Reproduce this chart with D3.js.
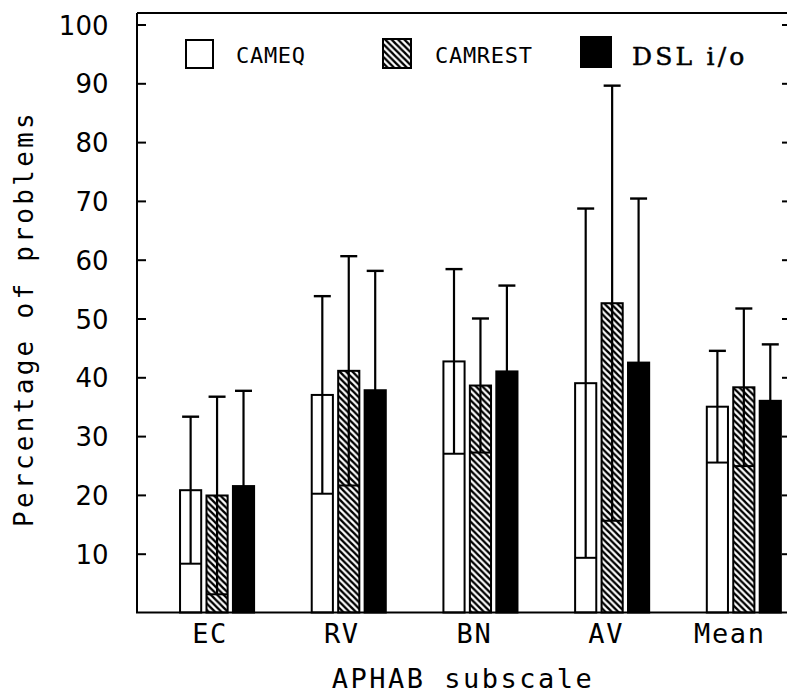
<!DOCTYPE html>
<html>
<head>
<meta charset="utf-8">
<script src="https://cdn.jsdelivr.net/npm/d3@7"></script>
<style>
  html, body { margin: 0; padding: 0; background: #ffffff; }
  svg { display: block; }
</style>
</head>
<body>
<svg id="chart" width="787" height="694"></svg>
<script>
// ---------- data ----------
const categories = ["EC", "RV", "BN", "AV", "Mean"];
const seriesNames = ["CAMEQ", "CAMREST", "DSL i/o"];
const cameqMean   = [20.8, 37.0, 42.7, 39.0, 35.0];
const cameqSD     = [12.5, 16.8, 15.7, 29.7, 9.5];
const camrestMean = [19.9, 41.1, 38.6, 52.6, 38.3];
const camrestSD   = [16.8, 19.5, 11.4, 37.0, 13.4];
const dslMean     = [21.5, 37.8, 41.0, 42.5, 36.0];
const dslSD       = [16.2, 20.3, 14.6, 27.9, 9.6];
const yTicks = [10, 20, 30, 40, 50, 60, 70, 80, 90, 100];
const xTitle = "APHAB subscale";
const yTitle = "Percentage of problems";

// ---------- layout ----------
const svg = d3.select("#chart");
const frameL = 137, frameR = 789, frameB = 612.5, frameT = 13;
const labelShift = [-7, -7, -6, -6, -14];

const y = d3.scaleLinear().domain([0, 100]).range([612.5, 24.5]);
const x0 = d3.scaleBand().domain(categories).range([151.2, 809.7])
  .paddingInner(0.4377).paddingOuter(0.219);
const x1 = d3.scaleBand().domain(seriesNames).range([0, x0.bandwidth()]).paddingInner(0.2);

// hatch pattern
const defs = svg.append("defs");
const p = 6.4;
const pat = defs.append("pattern").attr("id", "hatch")
  .attr("patternUnits", "userSpaceOnUse").attr("width", p).attr("height", p);
pat.append("rect").attr("width", p).attr("height", p).attr("fill", "#fff");
pat.append("path")
  .attr("d", `M-1,-1 L${p+1},${p+1} M-1,${p-1} L1,${p+1} M${p-1},-1 L${p+1},1`)
  .attr("stroke", "#000").attr("stroke-width", 2.4);

const fills = { "CAMEQ": "#fff", "CAMREST": "url(#hatch)", "DSL i/o": "#000" };

const rows = [];
categories.forEach((c, i) => {
  rows.push({ cat: c, s: "CAMEQ", m: cameqMean[i], sd: cameqSD[i] });
  rows.push({ cat: c, s: "CAMREST", m: camrestMean[i], sd: camrestSD[i] });
  rows.push({ cat: c, s: "DSL i/o", m: dslMean[i], sd: dslSD[i] });
});

// bars
const g = svg.append("g");
const bx = d => x0(d.cat) + x1(d.s);
const bw = x1.bandwidth();
g.selectAll("rect.bar").data(rows).join("rect").attr("class", "bar")
  .attr("x", bx).attr("width", bw)
  .attr("y", d => y(d.m)).attr("height", d => y(0) - y(d.m))
  .attr("fill", d => fills[d.s]).attr("stroke", "#000").attr("stroke-width", 2);

// error bars
const eb = g.selectAll("g.err").data(rows).join("g").attr("class", "err");
eb.append("line")
  .attr("x1", d => bx(d) + bw / 2).attr("x2", d => bx(d) + bw / 2)
  .attr("y1", d => y(d.m - d.sd)).attr("y2", d => y(d.m + d.sd))
  .attr("stroke", "#000").attr("stroke-width", 2.2);
eb.append("line")
  .attr("x1", d => bx(d) + bw / 2 - 8.5).attr("x2", d => bx(d) + bw / 2 + 8.5)
  .attr("y1", d => y(d.m + d.sd)).attr("y2", d => y(d.m + d.sd))
  .attr("stroke", "#000").attr("stroke-width", 2.4);
eb.append("line")
  .attr("x1", d => bx(d)).attr("x2", d => bx(d) + bw)
  .attr("y1", d => y(d.m - d.sd)).attr("y2", d => y(d.m - d.sd))
  .attr("stroke", "#000").attr("stroke-width", 2);

// frame
svg.append("path")
  .attr("d", `M${frameL},${frameT} L${frameL},${frameB} L${frameR},${frameB} M${frameL},${frameT} L${frameR},${frameT} L${frameR},${frameB}`)
  .attr("fill", "none").attr("stroke", "#000").attr("stroke-width", 2);

// y axis (left, inward ticks)
const yAxisL = d3.axisRight(y).tickValues(yTicks).tickSize(9).tickFormat("");
const gl = svg.append("g").attr("transform", `translate(${frameL},0)`).call(yAxisL);
gl.select(".domain").remove();
gl.selectAll(".tick line").attr("stroke", "#000").attr("stroke-width", 2);

const yAxisR = d3.axisLeft(y).tickValues(yTicks).tickSize(7).tickFormat("");
const gr = svg.append("g").attr("transform", `translate(${frameR},0)`).call(yAxisR);
gr.select(".domain").remove();
gr.selectAll(".tick line").attr("stroke", "#000").attr("stroke-width", 2);

// y tick labels
svg.append("g").selectAll("text").data(yTicks).join("text")
  .attr("x", 108.5).attr("y", d => y(d) + 10)
  .attr("text-anchor", "end")
  .attr("font-family", "'DejaVu Sans', sans-serif").attr("font-size", 26)
  .attr("fill", "#000")
  .text(d => d);

// x category labels
svg.append("g").selectAll("text").data(categories).join("text")
  .attr("x", (d, i) => x0(d) + x0.bandwidth() / 2 + labelShift[i])
  .attr("y", 643)
  .attr("text-anchor", "middle")
  .attr("font-family", "'DejaVu Sans Mono', monospace").attr("font-size", 27)
  .attr("letter-spacing", 1.6)
  .attr("fill", "#000")
  .text(d => d);

// axis titles
svg.append("text")
  .attr("x", 463).attr("y", 688)
  .attr("text-anchor", "middle")
  .attr("font-family", "'DejaVu Sans Mono', monospace").attr("font-size", 27)
  .attr("letter-spacing", 2.5)
  .attr("fill", "#000").text(xTitle);

svg.append("text")
  .attr("transform", "translate(33,318.5) rotate(-90)")
  .attr("text-anchor", "middle")
  .attr("font-family", "'DejaVu Sans Mono', monospace").attr("font-size", 26)
  .attr("letter-spacing", 3.3)
  .attr("fill", "#000").text(yTitle);

// legend
const legBoxes = [
  { s: "CAMEQ", x: 186, y: 40, w: 27, h: 28, tx: 236, ty: 63 },
  { s: "CAMREST", x: 383, y: 39, w: 28, h: 29, tx: 435, ty: 63 },
  { s: "DSL i/o", x: 581, y: 37, w: 30, h: 30, tx: 632, ty: 65 }
];
const lg = svg.append("g").selectAll("g").data(legBoxes).join("g");
lg.append("rect").attr("x", d => d.x).attr("y", d => d.y)
  .attr("width", d => d.w).attr("height", d => d.h)
  .attr("fill", d => fills[d.s]).attr("stroke", "#000").attr("stroke-width", 2);
lg.append("text").attr("x", d => d.tx).attr("y", d => d.ty)
  .attr("font-family", d => d.s === "DSL i/o" ? "'DejaVu Serif', serif" : "'DejaVu Sans Mono', monospace")
  .attr("font-size", d => d.s === "DSL i/o" ? 25 : 22)
  .attr("stroke", d => d.s === "DSL i/o" ? "#000" : "none")
  .attr("stroke-width", d => d.s === "DSL i/o" ? 0.5 : 0)
  .attr("letter-spacing", d => d.s === "DSL i/o" ? 3.2 : 0.7)
  .attr("fill", "#000")
  .text(d => d.s);
</script>
</body>
</html>
